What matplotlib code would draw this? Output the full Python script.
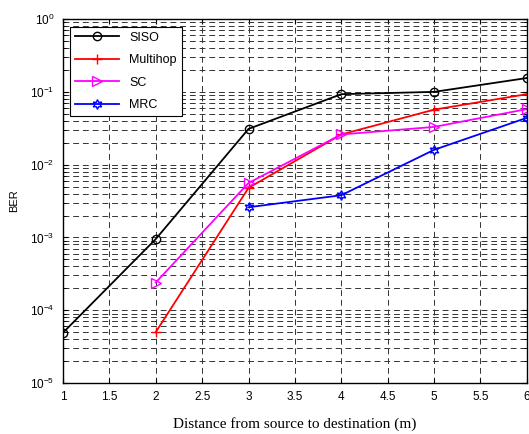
import numpy as np
import matplotlib.pyplot as plt

x_siso = [1, 2, 3, 4, 5, 6]
ber_siso = [4.9e-5, 9.5e-4, 0.031, 0.093, 0.1, 0.155]
x_multi = [2, 3, 4, 5, 6]
ber_multi = [5e-5, 4.8e-3, 0.026, 0.057, 0.093]
x_sc = [2, 3, 4, 5, 6]
ber_sc = [2.4e-4, 5.6e-3, 0.026, 0.033, 0.058]
x_mrc = [3, 4, 5, 6]
ber_mrc = [2.6e-3, 3.8e-3, 0.016, 0.044]

plt.rcParams['font.family'] = ['Liberation Sans', 'DejaVu Sans']

fig = plt.figure(figsize=(5.29, 4.34), dpi=100)
ax = fig.add_axes([0.119, 0.1175, 0.877, 0.8385])

ax.semilogy(x_siso, ber_siso, 'k-o', mfc='none', ms=6, lw=1.3, label='SISO')
ax.semilogy(x_multi, ber_multi, 'r-+', ms=7, lw=1.3, label='Multihop')
ax.semilogy(x_sc, ber_sc, '->', color='magenta', mfc='none', ms=7, lw=1.3, label='SC')
ax.semilogy(x_mrc, ber_mrc, '-', color='blue', marker=(6, 1, 0), mfc='none',
            ms=7, lw=1.3, label='MRC')

ax.set_xlim(1, 6)
ax.set_ylim(1e-5, 1)
ax.set_xticks(np.arange(1, 6.01, 0.5))
ax.set_xticklabels(['1', '1.5', '2', '2.5', '3', '3.5', '4', '4.5', '5', '5.5', '6'])
ax.grid(True, which='major', ls=(0, (6, 4)), color='#333333', lw=0.7)
ax.grid(True, which='minor', axis='y', ls=(0, (6, 4)), color='#333333', lw=0.7)
ax.tick_params(which='both', direction='in', top=True, right=True, labelsize=8.5, pad=6)
for s in ax.spines.values():
    s.set_linewidth(1.0)

ax.set_xlabel('Distance from source to destination (m)', family='Liberation Serif',
              fontsize=11, labelpad=10)
ax.set_ylabel('BER', fontsize=8, labelpad=8)

leg = ax.legend(loc='upper left', fontsize=9, fancybox=False, framealpha=1,
                edgecolor='k', handlelength=3.5, labelspacing=0.85,
                borderaxespad=0.6)
leg.get_frame().set_linewidth(0.8)

fig.savefig('out.png', dpi=100)
